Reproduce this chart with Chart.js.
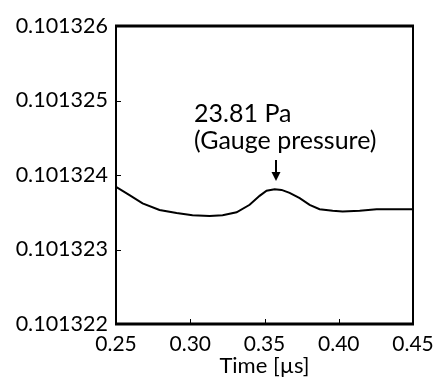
<!DOCTYPE html>
<html>
<head>
<meta charset="utf-8">
<script src="https://cdn.jsdelivr.net/npm/chart.js@4"></script>
<style>
  html, body { margin: 0; padding: 0; background: #fff; }
  #wrap { width: 435px; height: 379px; }
</style>
</head>
<body>
<div id="wrap"><canvas id="c" width="435" height="379"></canvas></div>
<script>
// ---- data (time in µs, pressure in MPa) ----
const times = [0.250, 0.2591, 0.2679, 0.2793, 0.2908, 0.3015, 0.3130, 0.3218, 0.3312, 0.3400,
               0.3467, 0.3514, 0.3568, 0.3615, 0.3669, 0.3737, 0.3804, 0.3871, 0.3959, 0.4026,
               0.4141, 0.4255, 0.4363, 0.450];
const pressures = [0.10132384, 0.10132373, 0.10132362, 0.10132353, 0.10132349, 0.10132346, 0.10132345, 0.10132346, 0.10132350, 0.10132360,
                   0.10132372, 0.10132379, 0.10132381, 0.10132380, 0.10132376, 0.10132369, 0.10132360, 0.10132354, 0.10132352, 0.10132351,
                   0.10132352, 0.10132354, 0.10132354, 0.10132354];
const xTickValues = [0.25, 0.30, 0.35, 0.40, 0.45];
const xTickLabels = ['0.25', '0.30', '0.35', '0.40', '0.45'];
const yTickValues = [0.101322, 0.101323, 0.101324, 0.101325, 0.101326];
const yTickLabels = ['0.101322', '0.101323', '0.101324', '0.101325', '0.101326'];
const xTitle = 'Time [µs]';
const annotLines = ['23.81 Pa', '(Gauge pressure)'];
const annotTextTime = 0.3026;
const annotTextValues = [0.10132482, 0.10132446];
const arrowTime = 0.358;
const arrowFromValue = 0.10132420;
const arrowToValue = 0.10132392;

const FONT = 'Lato, "Open Sans", sans-serif';
const ANNOT_SIZES = [25, 25];

const framePlugin = {
  id: 'frame',
  afterDatasetsDraw(chart) {
    const ctx = chart.ctx;
    const a = chart.chartArea;
    const xs = chart.scales.x, ys = chart.scales.y;
    ctx.save();
    ctx.strokeStyle = '#000';
    ctx.lineCap = 'butt';
    // inward ticks
    ctx.lineWidth = 1;
    ctx.beginPath();
    yTickValues.forEach(v => {
      const py = Math.round(ys.getPixelForValue(v)) + 0.5;
      ctx.moveTo(a.left, py); ctx.lineTo(a.left + 5, py);
    });
    xTickValues.forEach(v => {
      const px = Math.round(xs.getPixelForValue(v)) + 0.5;
      ctx.moveTo(px, a.bottom); ctx.lineTo(px, a.bottom - 5);
    });
    ctx.stroke();
    // frame
    ctx.lineWidth = 2;
    ctx.beginPath();
    ctx.moveTo(a.left, a.top); ctx.lineTo(a.left, a.bottom);
    ctx.moveTo(a.right, a.top); ctx.lineTo(a.right, a.bottom);
    ctx.stroke();
    ctx.lineWidth = 3;
    ctx.beginPath();
    ctx.moveTo(a.left - 1, a.top); ctx.lineTo(a.right + 1, a.top);
    ctx.moveTo(a.left - 1, a.bottom); ctx.lineTo(a.right + 1, a.bottom);
    ctx.stroke();
    // annotation text
    ctx.fillStyle = '#000';
    ctx.textAlign = 'left';
    ctx.textBaseline = 'middle';
    const tx = xs.getPixelForValue(annotTextTime);
    annotLines.forEach((t, i) => {
      ctx.font = ANNOT_SIZES[i] + 'px ' + FONT;
      ctx.fillText(t, tx, ys.getPixelForValue(annotTextValues[i]));
    });
    // arrow
    const ax = Math.round(xs.getPixelForValue(arrowTime));
    const y0 = ys.getPixelForValue(arrowFromValue);
    const y1 = ys.getPixelForValue(arrowToValue);
    ctx.lineWidth = 2;
    ctx.beginPath();
    ctx.moveTo(ax, y0); ctx.lineTo(ax, y1 - 8);
    ctx.stroke();
    ctx.beginPath();
    ctx.moveTo(ax - 4.5, y1 - 9);
    ctx.lineTo(ax + 4.5, y1 - 9);
    ctx.lineTo(ax, y1);
    ctx.closePath();
    ctx.fill();
    ctx.restore();
  }
};

new Chart(document.getElementById('c'), {
  type: 'line',
  data: {
    datasets: [{
      data: times.map((t, i) => ({ x: t, y: pressures[i] })),
      borderColor: '#000',
      borderWidth: 2,
      pointRadius: 0,
      tension: 0,
      fill: false
    }]
  },
  options: {
    responsive: false,
    devicePixelRatio: 1,
    animation: false,
    layout: { padding: { left: 0, right: 22, top: 26, bottom: 0 } },
    plugins: { legend: { display: false }, tooltip: { enabled: false } },
    scales: {
      x: {
        type: 'linear',
        min: 0.25, max: 0.45,
        afterBuildTicks: s => { s.ticks = xTickValues.map(v => ({ value: v })); },
        afterFit: s => { s.height = 55; s.paddingLeft = 0; s.paddingRight = 0; },
        grid: { display: false, drawTicks: false },
        border: { display: false },
        ticks: {
          color: '#000', padding: 8, maxRotation: 0, autoSkip: false,
          font: { family: FONT, size: 21 },
          callback: (v, i) => xTickLabels[i]
        },
        title: { display: true, text: xTitle, color: '#000', padding: { top: 0, bottom: 0 },
                 font: { family: FONT, size: 22 } }
      },
      y: {
        type: 'linear',
        min: 0.101322, max: 0.101326,
        afterBuildTicks: s => { s.ticks = yTickValues.map(v => ({ value: v })); },
        afterFit: s => { s.width = 116; s.paddingTop = 0; s.paddingBottom = 0; },
        grid: { display: false, drawTicks: false },
        border: { display: false },
        ticks: {
          color: '#000', padding: 8, autoSkip: false,
          font: { family: FONT, size: 21.5 },
          callback: (v, i) => yTickLabels[i]
        }
      }
    }
  },
  plugins: [framePlugin]
});
</script>
</body>
</html>
